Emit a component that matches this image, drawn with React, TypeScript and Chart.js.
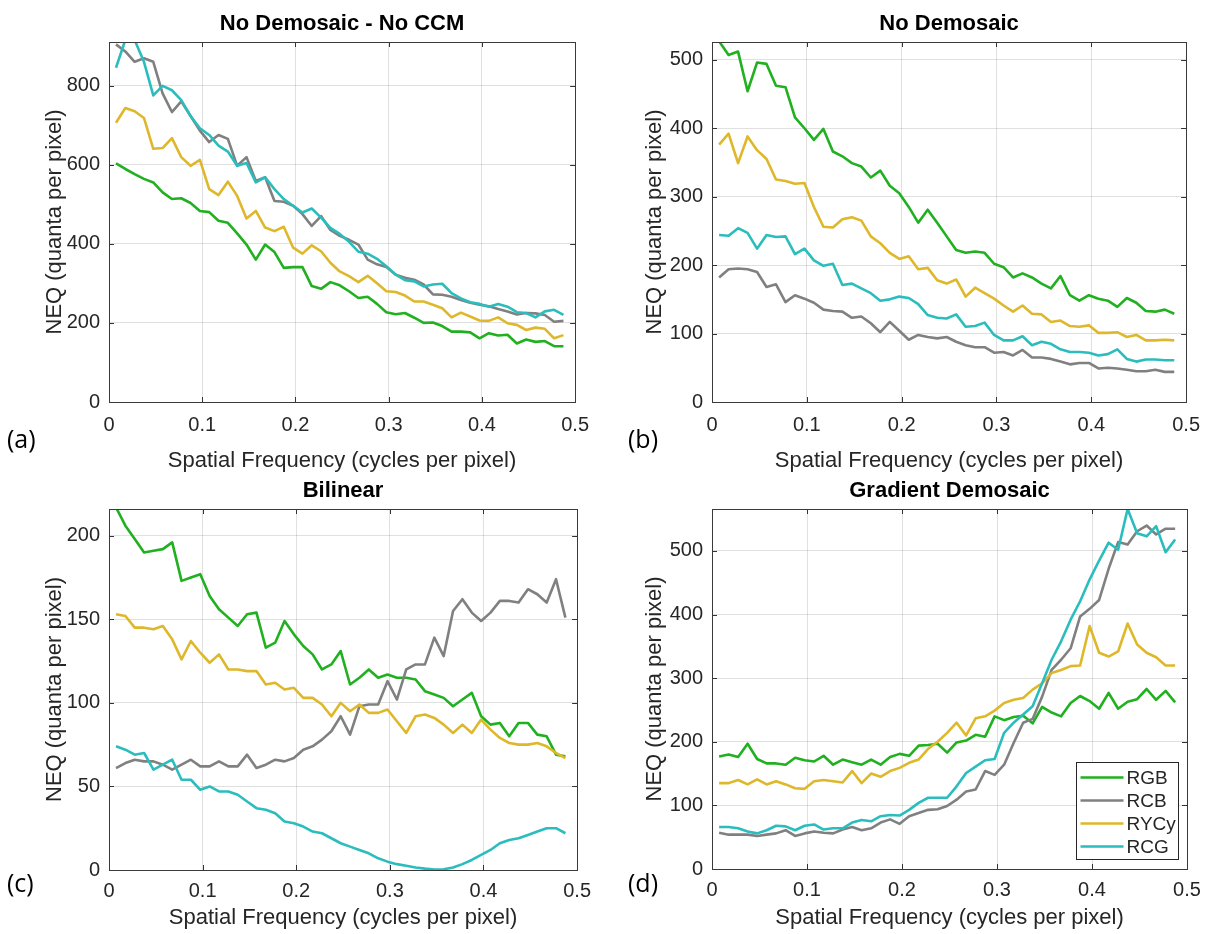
import React, { useEffect, useRef } from "react";
import { Chart, registerables } from "chart.js";

Chart.register(...registerables);

// ---------- data ----------
const freq = [
  0.0075, 0.0175, 0.0275, 0.0375, 0.0475, 0.0575, 0.0675, 0.0775, 0.0875, 0.0975,
  0.1075, 0.1175, 0.1275, 0.1375, 0.1475, 0.1575, 0.1675, 0.1775, 0.1875, 0.1975,
  0.2075, 0.2175, 0.2275, 0.2375, 0.2475, 0.2575, 0.2675, 0.2775, 0.2875, 0.2975,
  0.3075, 0.3175, 0.3275, 0.3375, 0.3475, 0.3575, 0.3675, 0.3775, 0.3875, 0.3975,
  0.4075, 0.4175, 0.4275, 0.4375, 0.4475, 0.4575, 0.4675, 0.4775, 0.4875,
];

const seriesNames = ["RGB", "RCB", "RYCy", "RCG"];
const seriesColors = ["#20b020", "#808080", "#deb82a", "#2bbdbd"];

const xTicks = [0, 0.1, 0.2, 0.3, 0.4, 0.5];
const xTickLabels = ["0", "0.1", "0.2", "0.3", "0.4", "0.5"];

// (a) No Demosaic - No CCM
const aRGB = [603, 589, 576, 564, 555, 530, 513, 515, 503, 483, 480, 458, 453, 426, 398, 360, 398, 379, 339, 341, 341, 293, 286, 303, 295, 280, 263, 266, 248, 227, 222, 225, 213, 200, 201, 192, 178, 178, 176, 161, 174, 168, 170, 148, 158, 152, 154, 141, 141];
const aRCB = [904, 886, 860, 869, 860, 780, 733, 760, 723, 686, 657, 675, 665, 597, 619, 559, 568, 508, 506, 496, 475, 445, 470, 435, 420, 410, 398, 360, 348, 341, 322, 314, 309, 297, 272, 271, 266, 258, 251, 246, 242, 235, 229, 221, 225, 224, 220, 203, 205];
const aRYCy = [706, 743, 735, 718, 640, 642, 667, 619, 597, 612, 538, 523, 557, 521, 464, 483, 441, 432, 443, 390, 375, 396, 381, 352, 330, 318, 303, 319, 300, 280, 278, 269, 254, 254, 246, 237, 214, 226, 216, 206, 205, 214, 199, 195, 182, 188, 185, 161, 169];
const aRCG = [845, 915, 915, 860, 775, 799, 788, 763, 723, 692, 675, 648, 633, 597, 604, 555, 568, 538, 513, 496, 479, 489, 466, 440, 425, 405, 380, 375, 362, 343, 322, 308, 305, 292, 297, 299, 275, 262, 252, 248, 241, 248, 241, 227, 225, 214, 229, 233, 220];

// (b) No Demosaic
const bRGB = [527, 507, 512, 454, 496, 494, 462, 460, 416, 400, 383, 399, 366, 359, 349, 344, 328, 338, 316, 305, 285, 262, 281, 262, 242, 222, 218, 220, 218, 202, 197, 182, 188, 182, 173, 166, 184, 156, 148, 156, 151, 148, 139, 152, 145, 133, 132, 135, 129];
const bRCB = [182, 194, 195, 194, 190, 168, 172, 146, 156, 151, 145, 135, 133, 132, 123, 125, 115, 102, 117, 104, 91, 98, 95, 93, 95, 88, 83, 80, 80, 72, 73, 68, 76, 65, 65, 63, 59, 55, 57, 57, 49, 50, 49, 47, 45, 45, 47, 44, 44];
const bRYCy = [376, 392, 349, 388, 368, 355, 325, 323, 319, 320, 285, 256, 255, 267, 270, 265, 242, 232, 218, 209, 213, 194, 196, 178, 173, 179, 154, 167, 159, 151, 141, 132, 141, 129, 128, 117, 119, 111, 110, 112, 101, 101, 102, 95, 98, 90, 90, 91, 90];
const bRCG = [244, 243, 254, 247, 224, 244, 241, 242, 216, 224, 207, 199, 202, 171, 173, 166, 159, 148, 150, 154, 152, 143, 127, 123, 122, 128, 110, 111, 116, 98, 90, 90, 96, 83, 88, 85, 77, 73, 73, 72, 68, 70, 77, 63, 59, 62, 62, 61, 61];

// (c) Bilinear
const cRGB = [217, 206, 198, 190, 191, 192, 196, 173, 175, 177, 164, 156, 151, 146, 153, 154, 133, 136, 149, 141, 134, 129, 120, 123, 131, 111, 115, 120, 115, 117, 115, 115, 114, 107, 105, 103, 98, 102, 106, 92, 87, 88, 80, 88, 88, 81, 80, 69, 68];
const cRCB = [61, 64, 66, 65, 65, 63, 60, 63, 66, 62, 62, 65, 62, 62, 69, 61, 63, 66, 65, 67, 72, 74, 78, 83, 92, 81, 98, 99, 99, 113, 102, 120, 123, 123, 139, 128, 155, 162, 154, 149, 154, 161, 161, 160, 168, 165, 160, 174, 151];
const cRYCy = [153, 152, 145, 145, 144, 146, 138, 126, 137, 130, 124, 129, 120, 120, 119, 119, 111, 112, 108, 109, 103, 103, 99, 92, 100, 95, 99, 94, 94, 96, 89, 82, 92, 93, 91, 87, 82, 87, 82, 90, 84, 79, 76, 75, 75, 76, 74, 70, 67];
const cRCG = [74, 72, 69, 70, 60, 63, 66, 54, 54, 48, 50, 47, 47, 45, 41, 37, 36, 34, 29, 28, 26, 23, 22, 19, 16, 14, 12, 10, 7, 5, 3.5, 2.5, 1.5, 0.8, 0.3, 0.4, 1.5, 3.5, 6, 9, 12, 16, 18, 19, 21, 23, 25, 25, 22];

// (d) Gradient Demosaic
const dRGB = [177, 180, 176, 197, 173, 166, 166, 164, 175, 171, 169, 178, 164, 172, 168, 164, 172, 164, 176, 181, 178, 194, 195, 197, 183, 199, 202, 211, 208, 240, 234, 239, 241, 229, 255, 246, 240, 261, 272, 264, 252, 277, 252, 263, 267, 283, 266, 280, 262];
const dRCB = [57, 54, 54, 54, 52, 54, 56, 61, 52, 56, 59, 57, 56, 62, 66, 61, 64, 73, 78, 71, 83, 88, 93, 94, 99, 109, 122, 125, 154, 148, 164, 198, 230, 236, 271, 313, 329, 347, 397, 409, 423, 472, 514, 510, 531, 540, 526, 535, 535];
const dRYCy = [135, 135, 140, 133, 141, 133, 138, 133, 127, 126, 138, 140, 138, 136, 154, 135, 150, 145, 154, 159, 167, 172, 189, 200, 214, 230, 210, 237, 240, 249, 261, 266, 269, 282, 292, 308, 313, 319, 320, 382, 340, 334, 342, 386, 353, 340, 333, 320, 320];
const dRCG = [66, 66, 64, 59, 56, 61, 68, 67, 61, 68, 70, 62, 64, 64, 73, 77, 75, 83, 85, 84, 93, 104, 112, 112, 112, 130, 151, 161, 171, 173, 214, 230, 243, 256, 292, 329, 358, 392, 421, 455, 485, 513, 502, 566, 528, 523, 539, 498, 518];

const yTicksA = [0, 200, 400, 600, 800];
const yTicksB = [0, 100, 200, 300, 400, 500];
const yTicksC = [0, 50, 100, 150, 200];
const yTicksD = [0, 100, 200, 300, 400, 500];

const yMaxA = 910;
const yMaxB = 526;
const yMaxC = 216;
const yMaxD = 566;

const titles = ["No Demosaic - No CCM", "No Demosaic", "Bilinear", "Gradient Demosaic"];
const tags = ["(a)", "(b)", "(c)", "(d)"];
const xTitle = "Spatial Frequency (cycles per pixel)";
const yTitle = "NEQ (quanta per pixel)";

// ---------- layout ----------
const FONT = '"Liberation Sans", Arial, Helvetica, sans-serif';
const TEXT = "#262626";

type Panel = {
  left: number; top: number; width: number; height: number;
  areaLeft: number; areaRight: number; areaTop: number; areaBottom: number;
  title: string; tag: string; tagX: number; tagY: number;
  yMax: number; yTicks: number[]; series: number[][]; legend: boolean;
  tickPad: number; xTitlePad: number;
};

const panels: Panel[] = [
  { left: 0, top: 0, width: 600, height: 475, areaLeft: 109, areaRight: 585, areaTop: 42, areaBottom: 402,
    title: titles[0], tag: tags[0], tagX: 7, tagY: 441, yMax: yMaxA, yTicks: yTicksA,
    series: [aRGB, aRCB, aRYCy, aRCG], legend: false, tickPad: 11, xTitlePad: 1 },
  { left: 600, top: 0, width: 611, height: 475, areaLeft: 112, areaRight: 587, areaTop: 42, areaBottom: 402,
    title: titles[1], tag: tags[1], tagX: 28, tagY: 441, yMax: yMaxB, yTicks: yTicksB,
    series: [bRGB, bRCB, bRYCy, bRCG], legend: false, tickPad: 11, xTitlePad: 1 },
  { left: 0, top: 467, width: 600, height: 467, areaLeft: 109, areaRight: 585, areaTop: 42, areaBottom: 403,
    title: titles[2], tag: tags[2], tagX: 7, tagY: 418, yMax: yMaxC, yTicks: yTicksC,
    series: [cRGB, cRCB, cRYCy, cRCG], legend: false, tickPad: 9, xTitlePad: 3 },
  { left: 600, top: 467, width: 611, height: 467, areaLeft: 112, areaRight: 587, areaTop: 42, areaBottom: 402,
    title: titles[3], tag: tags[3], tagX: 28, tagY: 418, yMax: yMaxD, yTicks: yTicksD,
    series: [dRGB, dRCB, dRYCy, dRCG], legend: true, tickPad: 9, xTitlePad: 3 },
];

const decorPlugin = {
  id: "decor",
  afterDraw(chart: any, _args: any, opts: any) {
    const { ctx, chartArea: a } = chart;
    const xs = chart.scales.x;
    const ys = chart.scales.y;
    ctx.save();
    // inward tick marks
    ctx.strokeStyle = "#333333";
    ctx.lineWidth = 1;
    ctx.beginPath();
    for (const v of xTicks) {
      const px = Math.round(xs.getPixelForValue(v)) + 0.5;
      ctx.moveTo(px, a.bottom);
      ctx.lineTo(px, a.bottom - 5);
      ctx.moveTo(px, a.top);
      ctx.lineTo(px, a.top + 5);
    }
    for (const v of opts.yTicks) {
      const py = Math.round(ys.getPixelForValue(v)) + 0.5;
      ctx.moveTo(a.left, py);
      ctx.lineTo(a.left + 5, py);
      ctx.moveTo(a.right, py);
      ctx.lineTo(a.right - 5, py);
    }
    ctx.stroke();
    // axes box
    ctx.strokeStyle = "#3a3a3a";
    ctx.strokeRect(Math.round(a.left) + 0.5, Math.round(a.top) + 0.5,
      Math.round(a.right - a.left), Math.round(a.bottom - a.top));
    // title
    ctx.fillStyle = "#000000";
    ctx.font = "bold 22px " + FONT;
    ctx.textAlign = "center";
    ctx.textBaseline = "middle";
    ctx.fillText(opts.title, (a.left + a.right) / 2, 24);
    // panel tag
    ctx.font = '25px "Open Sans", "Noto Sans", sans-serif';
    ctx.textAlign = "left";
    ctx.fillStyle = "#000000";
    ctx.fillText(opts.tag, opts.tagX, opts.tagY);
    // legend
    if (opts.legend) {
      const bw = 102, bh = 97;
      const bx = Math.round(a.right - 9 - bw) + 0.5;
      const by = Math.round(a.bottom - 10 - bh) + 0.5;
      ctx.fillStyle = "#ffffff";
      ctx.fillRect(bx, by, bw, bh);
      ctx.strokeStyle = "#262626";
      ctx.lineWidth = 1;
      ctx.strokeRect(bx, by, bw, bh);
      ctx.font = "19px " + FONT;
      ctx.textBaseline = "middle";
      ctx.textAlign = "left";
      seriesNames.forEach((name, i) => {
        const ry = by + 15 + i * 23;
        ctx.strokeStyle = seriesColors[i];
        ctx.lineWidth = 2.5;
        ctx.beginPath();
        ctx.moveTo(bx + 4, ry);
        ctx.lineTo(bx + 47, ry);
        ctx.stroke();
        ctx.fillStyle = TEXT;
        ctx.fillText(name, bx + 50, ry + 1);
      });
    }
    ctx.restore();
  },
};

function PanelChart({ p }: { p: Panel }) {
  const ref = useRef<HTMLCanvasElement | null>(null);
  useEffect(() => {
    if (!ref.current) return;
    const datasets = p.series.map((vals, i) => ({
      label: seriesNames[i],
      data: freq.map((x, k) => ({ x, y: vals[k] })),
      borderColor: seriesColors[i],
      backgroundColor: seriesColors[i],
      borderWidth: 2.6,
      pointRadius: 0,
      tension: 0,
      fill: false,
      borderJoinStyle: "round" as const,
      order: 3 - i,
    }));
    const chart = new Chart(ref.current, {
      type: "line",
      data: { datasets },
      plugins: [decorPlugin as any],
      options: {
        animation: false,
        responsive: false,
        events: [],
        layout: { padding: { left: 0, top: p.areaTop, right: p.width - p.areaRight, bottom: 0 } },
        plugins: {
          legend: { display: false },
          tooltip: { enabled: false },
          decor: { title: p.title, tag: p.tag, tagX: p.tagX, tagY: p.tagY, yTicks: p.yTicks, legend: p.legend },
        } as any,
        scales: {
          x: {
            type: "linear",
            min: 0,
            max: 0.5,
            afterBuildTicks: (s: any) => { s.ticks = xTicks.map((v) => ({ value: v })); },
            afterFit: (s: any) => { s.height = p.height - p.areaBottom; },
            grid: { color: "rgba(38,38,38,0.14)", drawTicks: false, lineWidth: 1 },
            border: { display: false },
            ticks: {
              padding: p.tickPad,
              color: TEXT,
              font: { family: FONT, size: 20 },
              maxRotation: 0,
              callback: (v: any) => xTickLabels[xTicks.indexOf(Number(v))] ?? String(v),
            },
            title: {
              display: true,
              text: xTitle,
              color: TEXT,
              font: { family: FONT, size: 22 },
              padding: { top: 0, bottom: p.xTitlePad },
            },
          },
          y: {
            type: "linear",
            min: 0,
            max: p.yMax,
            afterBuildTicks: (s: any) => { s.ticks = p.yTicks.map((v) => ({ value: v })); },
            afterFit: (s: any) => { s.width = p.areaLeft; },
            grid: { color: "rgba(38,38,38,0.14)", drawTicks: false, lineWidth: 1 },
            border: { display: false },
            ticks: {
              padding: 9,
              color: TEXT,
              font: { family: FONT, size: 20 },
            },
            title: {
              display: true,
              text: yTitle,
              color: TEXT,
              font: { family: FONT, size: 22 },
              padding: { top: 42, bottom: 0 },
            },
          },
        },
      },
    });
    return () => chart.destroy();
  }, [p]);
  return (
    <canvas
      ref={ref}
      width={p.width}
      height={p.height}
      style={{ position: "absolute", left: p.left, top: p.top, width: p.width, height: p.height }}
    />
  );
}

export default function App() {
  return (
    <div
      style={{
        position: "absolute",
        left: 0,
        top: 0,
        width: 1211,
        height: 934,
        overflow: "hidden",
        background: "#ffffff",
      }}
    >
      {panels.map((p, i) => (
        <PanelChart key={i} p={p} />
      ))}
    </div>
  );
}
